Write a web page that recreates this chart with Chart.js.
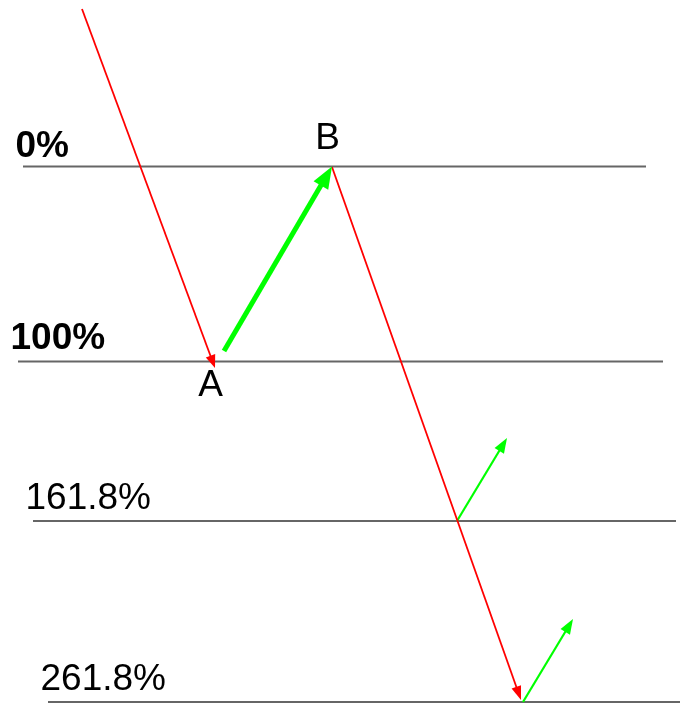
<!DOCTYPE html>
<html>
<head>
<meta charset="utf-8">
<script src="https://cdn.jsdelivr.net/npm/chart.js@4"></script>
<style>
    html, body { margin: 0; padding: 0; background: #ffffff; }
    #wrap { width: 680px; height: 704px; position: relative; }
</style>
</head>
<body>
<div id="wrap"><canvas id="fibChart"></canvas></div>
<script>
// Fibonacci levels (chart units, y axis runs downward)
const levelNames = ['0%', '100%', '161.8%', '261.8%'];
const levelY = [166.5, 361.5, 521, 702];
const levelStartX = [23, 18, 33, 48];
const levelEndX = [646, 663, 676, 680];

// Swing points A and B
const pointNames = ['A', 'B'];
const pointX = [215, 332];
const pointY = [368, 166.5];

// Price legs: [start x, start y, end x, end y]
const dropIn = [82, 9, 215, 368];
const legAB = [224, 351, 332, 166.5];
const extension = [332, 167, 521, 700];
const bounce1 = [457, 521, 507, 438];
const bounce2 = [523, 702, 573, 619];

const RED = '#ff0000';
const GREEN = '#00ff00';
const GREY = '#666666';
const FONT = '"Liberation Sans", Arial, sans-serif';

function leg(arr, color, width, head) {
    return {
        data: [{ x: arr[0], y: arr[1] }, { x: arr[2], y: arr[3] }],
        borderColor: color,
        borderWidth: width,
        pointRadius: 0,
        showLine: true,
        arrow: head
    };
}

// Shorten the shaft to the base of the head, then draw the head
const arrowPlugin = {
    id: 'arrows',
    beforeDatasetDraw(chart, args) {
        const ds = chart.data.datasets[args.index];
        if (!ds.arrow) return;
        const pts = args.meta.data;
        const tip = pts[pts.length - 1], prev = pts[pts.length - 2];
        const ang = Math.atan2(tip.y - prev.y, tip.x - prev.x);
        ds._tip = { x: tip.x, y: tip.y, ang: ang };
        tip.x -= Math.cos(ang) * ds.arrow.len * 0.7;
        tip.y -= Math.sin(ang) * ds.arrow.len * 0.7;
    },
    afterDatasetDraw(chart, args) {
        const ds = chart.data.datasets[args.index];
        if (!ds.arrow || !ds._tip) return;
        const pts = args.meta.data;
        const tip = pts[pts.length - 1];
        tip.x = ds._tip.x;
        tip.y = ds._tip.y;
        const ctx = chart.ctx;
        const a = ds._tip.ang, L = ds.arrow.len, W = ds.arrow.half;
        const bx = tip.x - Math.cos(a) * L, by = tip.y - Math.sin(a) * L;
        ctx.save();
        ctx.fillStyle = ds.borderColor;
        ctx.beginPath();
        ctx.moveTo(tip.x, tip.y);
        ctx.lineTo(bx + Math.sin(a) * W, by - Math.cos(a) * W);
        ctx.lineTo(bx - Math.sin(a) * W, by + Math.cos(a) * W);
        ctx.closePath();
        ctx.fill();
        ctx.restore();
    }
};

const labelPlugin = {
    id: 'fibLabels',
    afterDraw(chart) {
        const ctx = chart.ctx;
        const xs = chart.scales.x, ys = chart.scales.y;
        ctx.save();
        ctx.fillStyle = '#000000';
        ctx.textBaseline = 'alphabetic';
        levelNames.forEach((name, i) => {
            ctx.font = (i < 2 ? 'bold ' : '') + '37px ' + FONT;
            ctx.textAlign = 'left';
            const off = i === 0 ? 9.5 : 12.5;
            ctx.fillText(name, xs.getPixelForValue(levelStartX[i]) - 7.5, ys.getPixelForValue(levelY[i]) - off);
        });
        ctx.font = '37px ' + FONT;
        ctx.textAlign = 'center';
        pointNames.forEach((name, i) => {
            const px = xs.getPixelForValue(pointX[i]) - 4.5;
            const py = ys.getPixelForValue(pointY[i]) + (name === 'A' ? 28 : -18);
            ctx.fillText(name, px, py);
        });
        ctx.restore();
    }
};

const datasets = [
    leg(dropIn, RED, 1.8, { len: 13, half: 5 }),
    leg(legAB, GREEN, 5, { len: 22, half: 8.5 }),
    leg(extension, RED, 1.8, { len: 14, half: 5 }),
    leg(bounce1, GREEN, 2.2, { len: 15, half: 5.5 }),
    leg(bounce2, GREEN, 2.2, { len: 15, half: 5.5 })
];
levelNames.forEach((name, i) => {
    datasets.push({
        label: name,
        data: [{ x: levelStartX[i], y: levelY[i] }, { x: levelEndX[i], y: levelY[i] }],
        borderColor: GREY,
        borderWidth: 2.2,
        pointRadius: 0,
        showLine: true
    });
});

new Chart(document.getElementById('fibChart'), {
    type: 'scatter',
    data: { datasets: datasets },
    options: {
        responsive: true,
        maintainAspectRatio: false,
        animation: false,
        layout: { padding: 0 },
        scales: {
            x: { type: 'linear', min: 0, max: 680, display: false },
            y: { type: 'linear', min: 0, max: 704, reverse: true, display: false }
        },
        plugins: { legend: { display: false }, tooltip: { enabled: false } }
    },
    plugins: [arrowPlugin, labelPlugin]
});
</script>
</body>
</html>
